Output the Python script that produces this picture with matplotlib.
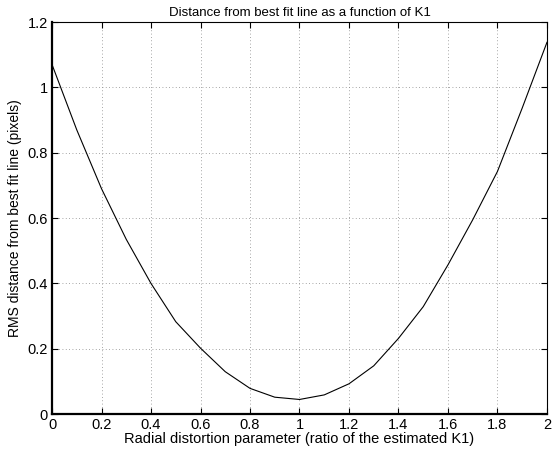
import matplotlib
matplotlib.use('Agg')
import matplotlib.pyplot as plt
from matplotlib.ticker import FuncFormatter
import numpy as np

plt.rcParams.update({
    'font.family': ['Liberation Sans', 'DejaVu Sans'],
    'font.size': 10,
})

# ratio of the estimated K1
k1_ratio = [0.0, 0.1, 0.2, 0.3, 0.4, 0.5, 0.6, 0.7, 0.8, 0.9, 1.0,
            1.1, 1.2, 1.3, 1.4, 1.5, 1.6, 1.7, 1.8, 1.9, 2.0]
# RMS distance from best fit line (pixels)
rms_dist = [1.07, 0.87, 0.69, 0.535, 0.40, 0.283, 0.202, 0.130, 0.079, 0.052, 0.045,
            0.059, 0.093, 0.148, 0.232, 0.329, 0.457, 0.595, 0.743, 0.937, 1.138]

xticks = [0, 0.2, 0.4, 0.6, 0.8, 1, 1.2, 1.4, 1.6, 1.8, 2]
yticks = [0, 0.2, 0.4, 0.6, 0.8, 1, 1.2]

fig = plt.figure(figsize=(5.57, 4.5), dpi=100)
ax = fig.add_axes([0.0934, 0.0796, 0.8886, 0.8714])

ax.plot(k1_ratio, rms_dist, color='k', linewidth=0.8)

ax.set_xlim(0, 2)
ax.set_ylim(0, 1.2)
ax.set_xticks(xticks)
ax.set_yticks(yticks)
fmt = FuncFormatter(lambda v, p: '%g' % v)
ax.xaxis.set_major_formatter(fmt)
ax.yaxis.set_major_formatter(fmt)
ax.tick_params(direction='in', top=True, right=True, length=4, labelsize=10.5, pad=3)

ax.grid(True, linestyle=(0, (1, 3)), color='#888888', linewidth=0.6)
for side in ['top', 'right']:
    ax.spines[side].set_linewidth(0.8)
for side in ['bottom', 'left']:
    ax.spines[side].set_linewidth(1.6)

ax.set_title('Distance from best fit line as a function of K1', fontsize=9.5, pad=4)
ax.set_xlabel('Radial distortion parameter (ratio of the estimated K1)', fontsize=10.5, labelpad=0)
ax.set_ylabel('RMS distance from best fit line (pixels)', fontsize=10, labelpad=4)

fig.savefig('out.png', dpi=100)
